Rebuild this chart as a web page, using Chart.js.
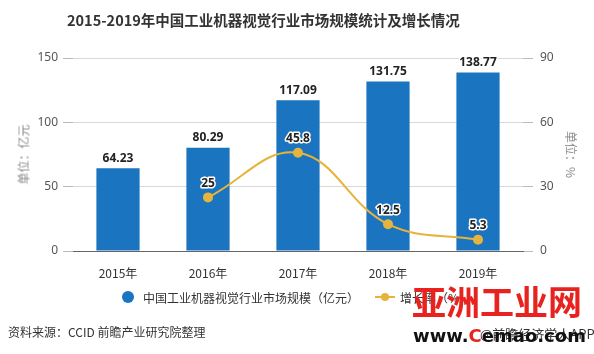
<!DOCTYPE html>
<html>
<head>
<meta charset="utf-8">
<script src="https://cdn.jsdelivr.net/npm/chart.js@4.4.1/dist/chart.umd.min.js"></script>
<style>
  body { margin: 0; background: #fff; font-family: 'Noto Sans CJK SC', 'Noto Sans', sans-serif; }
  #wrap { position: relative; width: 594px; height: 354px; overflow: hidden; }
  #chart { position: absolute; left: 0; top: 0; }
  .txt { position: absolute; white-space: nowrap; color: #333; font-size: 12px; }
  .title { left: 67px; top: 9px; font-size: 14.5px; font-weight: bold; color: #333; }
  .ytitle { color: #888; font-size: 12px; font-weight: normal; }
  .dot { position: absolute; width: 12px; height: 12px; border-radius: 50%; background: #1b74c0; }
  .lseg { position: absolute; width: 20px; height: 2px; background: #e6b43c; }
  .ldot { position: absolute; width: 8px; height: 8px; border-radius: 50%; background: #e6b43c; }
  .mark { position: absolute; font-weight: bold; }
</style>
</head>
<body>
<div id="wrap">
  <canvas id="chart" width="594" height="354"></canvas>
  <div class="txt title">2015-2019年中国工业机器视觉行业市场规模统计及增长情况</div>
  <div class="txt ytitle" style="left:-7px; top:146px; transform: rotate(-90deg);">单位：亿元</div>
  <div class="txt ytitle" style="left:548px; top:146px; transform: rotate(90deg);">单位：%</div>

  <div class="dot" style="left:122px; top:291px;"></div>
  <div class="txt" style="left:143px; top:289px;">中国工业机器视觉行业市场规模（亿元）</div>
  <div class="lseg" style="left:375px; top:296px;"></div>
  <div class="ldot" style="left:381px; top:293px;"></div>
  <div class="txt" style="left:400px; top:289px;">增长率（%）</div>

  <div class="txt" style="left:8px; top:323px;">资料来源：CCID 前瞻产业研究院整理</div>
  <div class="txt" style="left:480px; top:324px; font-size:13px;">@前瞻经济学人APP</div>

  <div class="mark" style="left:412px; top:281px; font-size:34px; color:#e8231f; line-height:40px;">亚洲工业网</div>
  <div class="mark" style="left:413px; top:325px; font-size:18px; color:#111; font-family:'DejaVu Sans'; line-height:22px;">www.<span style="color:#e8231f">C</span>emao.com</div>
</div>
<script>
// --- data ---
const years = ['2015年', '2016年', '2017年', '2018年', '2019年'];
const marketSize = [64.23, 80.29, 117.09, 131.75, 138.77];
const growthRate = [null, 25, 45.8, 12.5, 5.3];
const leftTicks = [0, 50, 100, 150];
const rightTicks = [0, 30, 60, 90];

const barColor = '#1b74c0';
const lineColor = '#e6b43c';

// draws the value labels above bars and points
const valueLabels = {
  id: 'valueLabels',
  afterDatasetsDraw(chart) {
    const ctx = chart.ctx;
    ctx.save();
    ctx.textAlign = 'center';
    ctx.textBaseline = 'bottom';
    ctx.lineJoin = 'round';
    chart.data.datasets.forEach((ds, i) => {
      const meta = chart.getDatasetMeta(i);
      meta.data.forEach((el, j) => {
        const v = ds.data[j];
        if (v === null) return;
        const off = ds.type === 'line' ? 8 : 4;
        ctx.font = 'bold 12px "Noto Sans", sans-serif';
        ctx.strokeStyle = '#fff';
        ctx.lineWidth = 3;
        ctx.strokeText(String(v), el.x, el.y - off);
        ctx.fillStyle = '#222';
        ctx.fillText(String(v), el.x, el.y - off);
      });
    });
    ctx.restore();
  }
};

new Chart(document.getElementById('chart'), {
  data: {
    labels: years,
    datasets: [
      {
        type: 'line',
        label: '增长率（%）',
        data: growthRate,
        yAxisID: 'y1',
        borderColor: lineColor,
        backgroundColor: lineColor,
        borderWidth: 2,
        tension: 0.4,
        pointRadius: 4,
        pointBackgroundColor: lineColor,
        pointBorderColor: lineColor,
        order: 0
      },
      {
        type: 'bar',
        label: '中国工业机器视觉行业市场规模（亿元）',
        data: marketSize,
        yAxisID: 'y',
        backgroundColor: barColor,
        barPercentage: 0.48,
        categoryPercentage: 1,
        order: 1
      }
    ]
  },
  options: {
    responsive: false,
    animation: false,
    layout: { padding: { top: 58, left: 0, right: 0, bottom: 0 } },
    plugins: { legend: { display: false }, tooltip: { enabled: false } },
    scales: {
      x: {
        grid: { display: false },
        border: { color: '#666' },
        ticks: { color: '#333', padding: 7, font: { size: 12, family: '"Noto Sans CJK SC"' } },
        afterFit(s) { s.height = 103; }
      },
      y: {
        position: 'left',
        min: 0, max: 150,
        afterBuildTicks(s) { s.ticks = leftTicks.map(v => ({ value: v })); },
        grid: { color: '#d9d9d9', tickLength: 10, tickColor: '#bbb' },
        border: { display: false },
        ticks: { color: '#555', padding: 5, font: { size: 12, family: '"Noto Sans"' } },
        afterFit(s) { s.width = 73; }
      },
      y1: {
        position: 'right',
        min: 0, max: 90,
        afterBuildTicks(s) { s.ticks = rightTicks.map(v => ({ value: v })); },
        grid: { drawOnChartArea: false, tickLength: 10, tickColor: '#bbb' },
        border: { display: false },
        ticks: { color: '#555', padding: 7, font: { size: 12, family: '"Noto Sans"' } },
        afterFit(s) { s.width = 71; }
      }
    }
  },
  plugins: [valueLabels]
});
</script>
</body>
</html>
